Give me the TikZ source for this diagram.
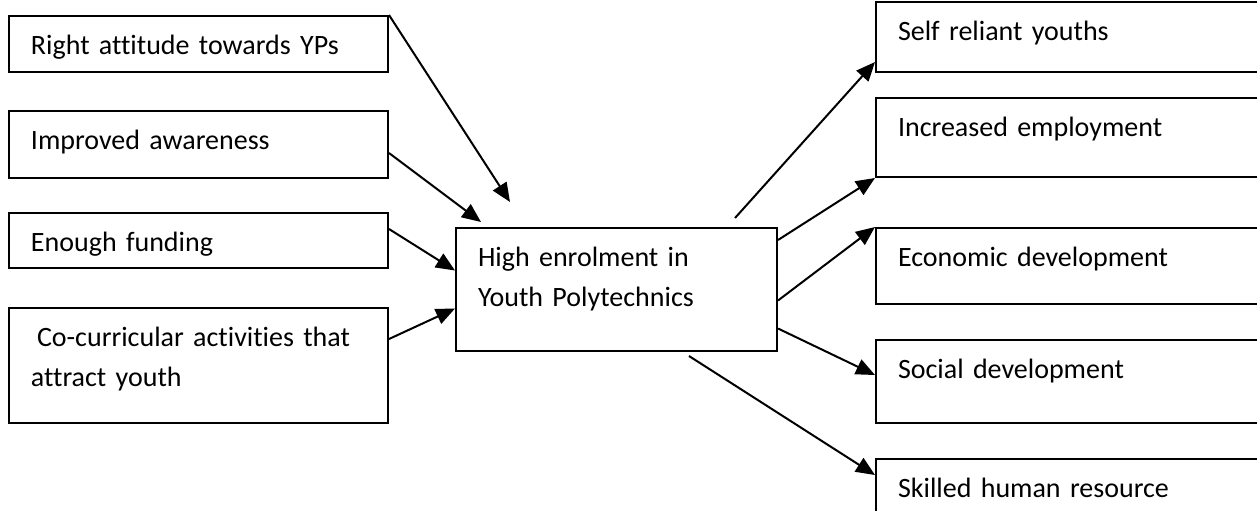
\documentclass[tikz,border=0pt]{standalone}
\usepackage{fontspec}
\setmainfont{Carlito}[Ligatures={NoCommon}, WordSpace=0.85]
\usetikzlibrary{arrows.meta}

\begin{document}
\begin{tikzpicture}[x=0.5pt, y=-0.5pt, > = {Triangle[length=9.5pt,width=8pt]}, line width=1pt]
            % Styles
            \tikzstyle{box}=[draw, anchor=north west, align=left, inner xsep=11pt, inner ysep=0pt, text height=19pt, font=\fontsize{14}{20}\selectfont]
            \tikzstyle{cause}=[box, text width=167.5pt]
            \tikzstyle{effect}=[box, text width=193pt]
            \tikzstyle{link}=[->]

            \clip (0,0) rectangle (1257,510);

            % Causes
            \node[cause, text depth=9pt] (attitude) at (8,15) {Right attitude towards YPs};
            \node[cause, text depth=14.5pt] (awareness) at (8,110) {Improved awareness};
            \node[cause, text depth=8.5pt] (funding) at (8,212) {Enough funding};
            \node[cause, text depth=38.5pt] (cocurricular) at (8,307) {\hspace*{3pt}Co-curricular activities that\\attract youth};

            % Centre
            \node[box, text width=138.5pt, text depth=42.5pt] (enrol) at (455,227) {High enrolment in\\Youth Polytechnics};

            % Effects
            \node[effect, text depth=16pt] (selfreliant) at (875,1) {Self reliant youths};
            \node[effect, text depth=20.5pt] (employment) at (875,97) {Increased employment};
            \node[effect, text depth=19pt] (economic) at (875,227) {Economic development};
            \node[effect, text depth=22.5pt] (social) at (875,339) {Social development};
            \node[effect, text depth=40pt] (skilled) at (875,458) {Skilled human resource};

            % Arrows
            \draw[link] (attitude.north east) -- ([xshift=27.5pt,yshift=12.5pt]enrol.north west);
            \draw[link] ([yshift=-4.25pt]awareness.east) -- ([xshift=13pt,yshift=2.5pt]enrol.north west);
            \draw[link] ([yshift=5.75pt]funding.east) -- ([yshift=9.5pt]enrol.west);
            \draw[link] ([yshift=13.25pt]cocurricular.east) -- ([yshift=-9.5pt]enrol.west);
            \draw[link] ([xshift=-21.5pt,yshift=4.5pt]enrol.north east) -- ([yshift=5.5pt]selfreliant.south west);
            \draw[link] ([yshift=-6.5pt]enrol.north east) -- (employment.south west);
            \draw[link] ([yshift=-5.5pt]enrol.east) -- (economic.north west);
            \draw[link] ([yshift=-19.5pt]enrol.east) -- ([yshift=-18pt]social.north west);
            \draw[link] ([xshift=-44.5pt,yshift=-2pt]enrol.south east) -- ([yshift=-8.5pt]skilled.north west);
        \end{tikzpicture}
\end{document}
